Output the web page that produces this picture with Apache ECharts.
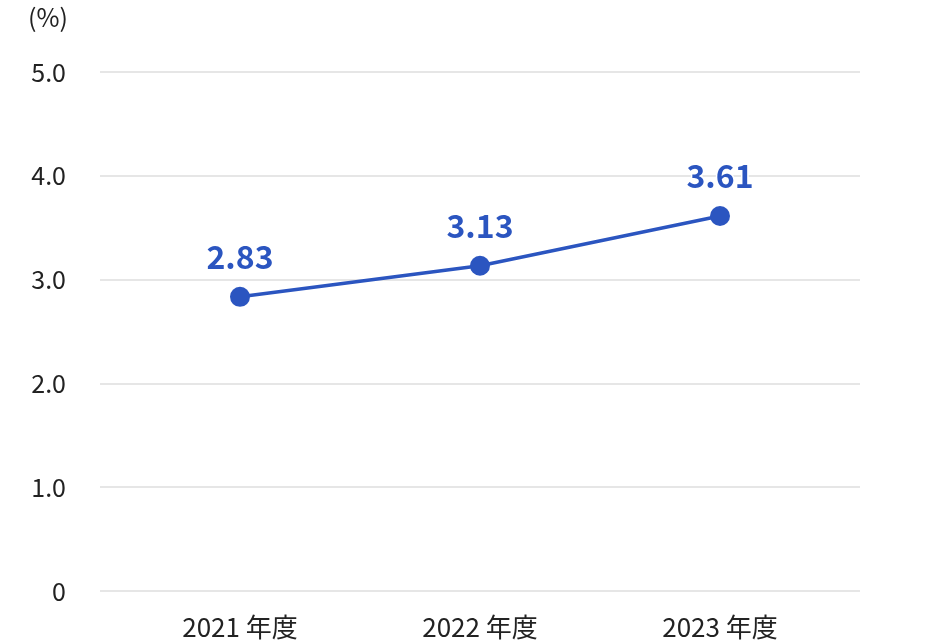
<!DOCTYPE html>
<html><head><meta charset="utf-8">
<script src="https://cdn.jsdelivr.net/npm/echarts@6/dist/echarts.min.js"></script>
<style>html,body{margin:0;padding:0;background:#fff}#c{width:940px;height:640px}</style>
</head><body><div id="c"></div>
<script>
const categories = ['2021 年度', '2022 年度', '2023 年度'];
const values = [2.83, 3.13, 3.61];
const yTicks = [0, 1, 2, 3, 4, 5];
const unitLabel = '(%)';

const FONT = '"Noto Sans CJK JP", "Noto Sans", sans-serif';
const chart = echarts.init(document.getElementById('c'));
chart.setOption({
  backgroundColor: '#fff',
  animation: false,
  grid: [
    { left: 100, right: 80, top: 72, bottom: 49 },
    { left: 120, right: 100, top: 72, bottom: 49 }
  ],
  xAxis: [
    { gridIndex: 0, type: 'value', show: false, min: 0, max: 1 },
    {
      gridIndex: 1, type: 'category', data: categories, boundaryGap: true,
      axisLine: { show: false }, axisTick: { show: false },
      axisLabel: { color: '#222', fontSize: 26, fontFamily: FONT, margin: 24 }
    }
  ],
  yAxis: [
    {
      gridIndex: 0, type: 'value', min: 0, max: 5, interval: 1,
      name: unitLabel, nameLocation: 'end', nameGap: 42,
      nameTextStyle: { color: '#222', fontSize: 25, fontFamily: FONT, align: 'right', padding: [0, 32, 0, 0] },
      axisLine: { show: false }, axisTick: { show: false },
      splitLine: { lineStyle: { color: '#e6e6e6', width: 2 } },
      axisLabel: {
        color: '#222', fontSize: 25, fontFamily: FONT, margin: 34,
        formatter: v => yTicks.includes(v) ? (v === 0 ? '0' : v.toFixed(1)) : ''
      }
    },
    { gridIndex: 1, type: 'value', min: 0, max: 5, show: false }
  ],
  series: [{
    type: 'line', xAxisIndex: 1, yAxisIndex: 1, data: values,
    symbol: 'circle', symbolSize: 20,
    lineStyle: { color: '#2b55c0', width: 3.5 },
    itemStyle: { color: '#2b55c0' },
    label: {
      show: true, position: 'top', distance: 14,
      color: '#2b55c0', fontSize: 32, fontWeight: 'bold', fontFamily: FONT,
      textBorderColor: '#fff', textBorderWidth: 3,
      formatter: p => p.value.toFixed(2)
    }
  }]
});
</script></body></html>
